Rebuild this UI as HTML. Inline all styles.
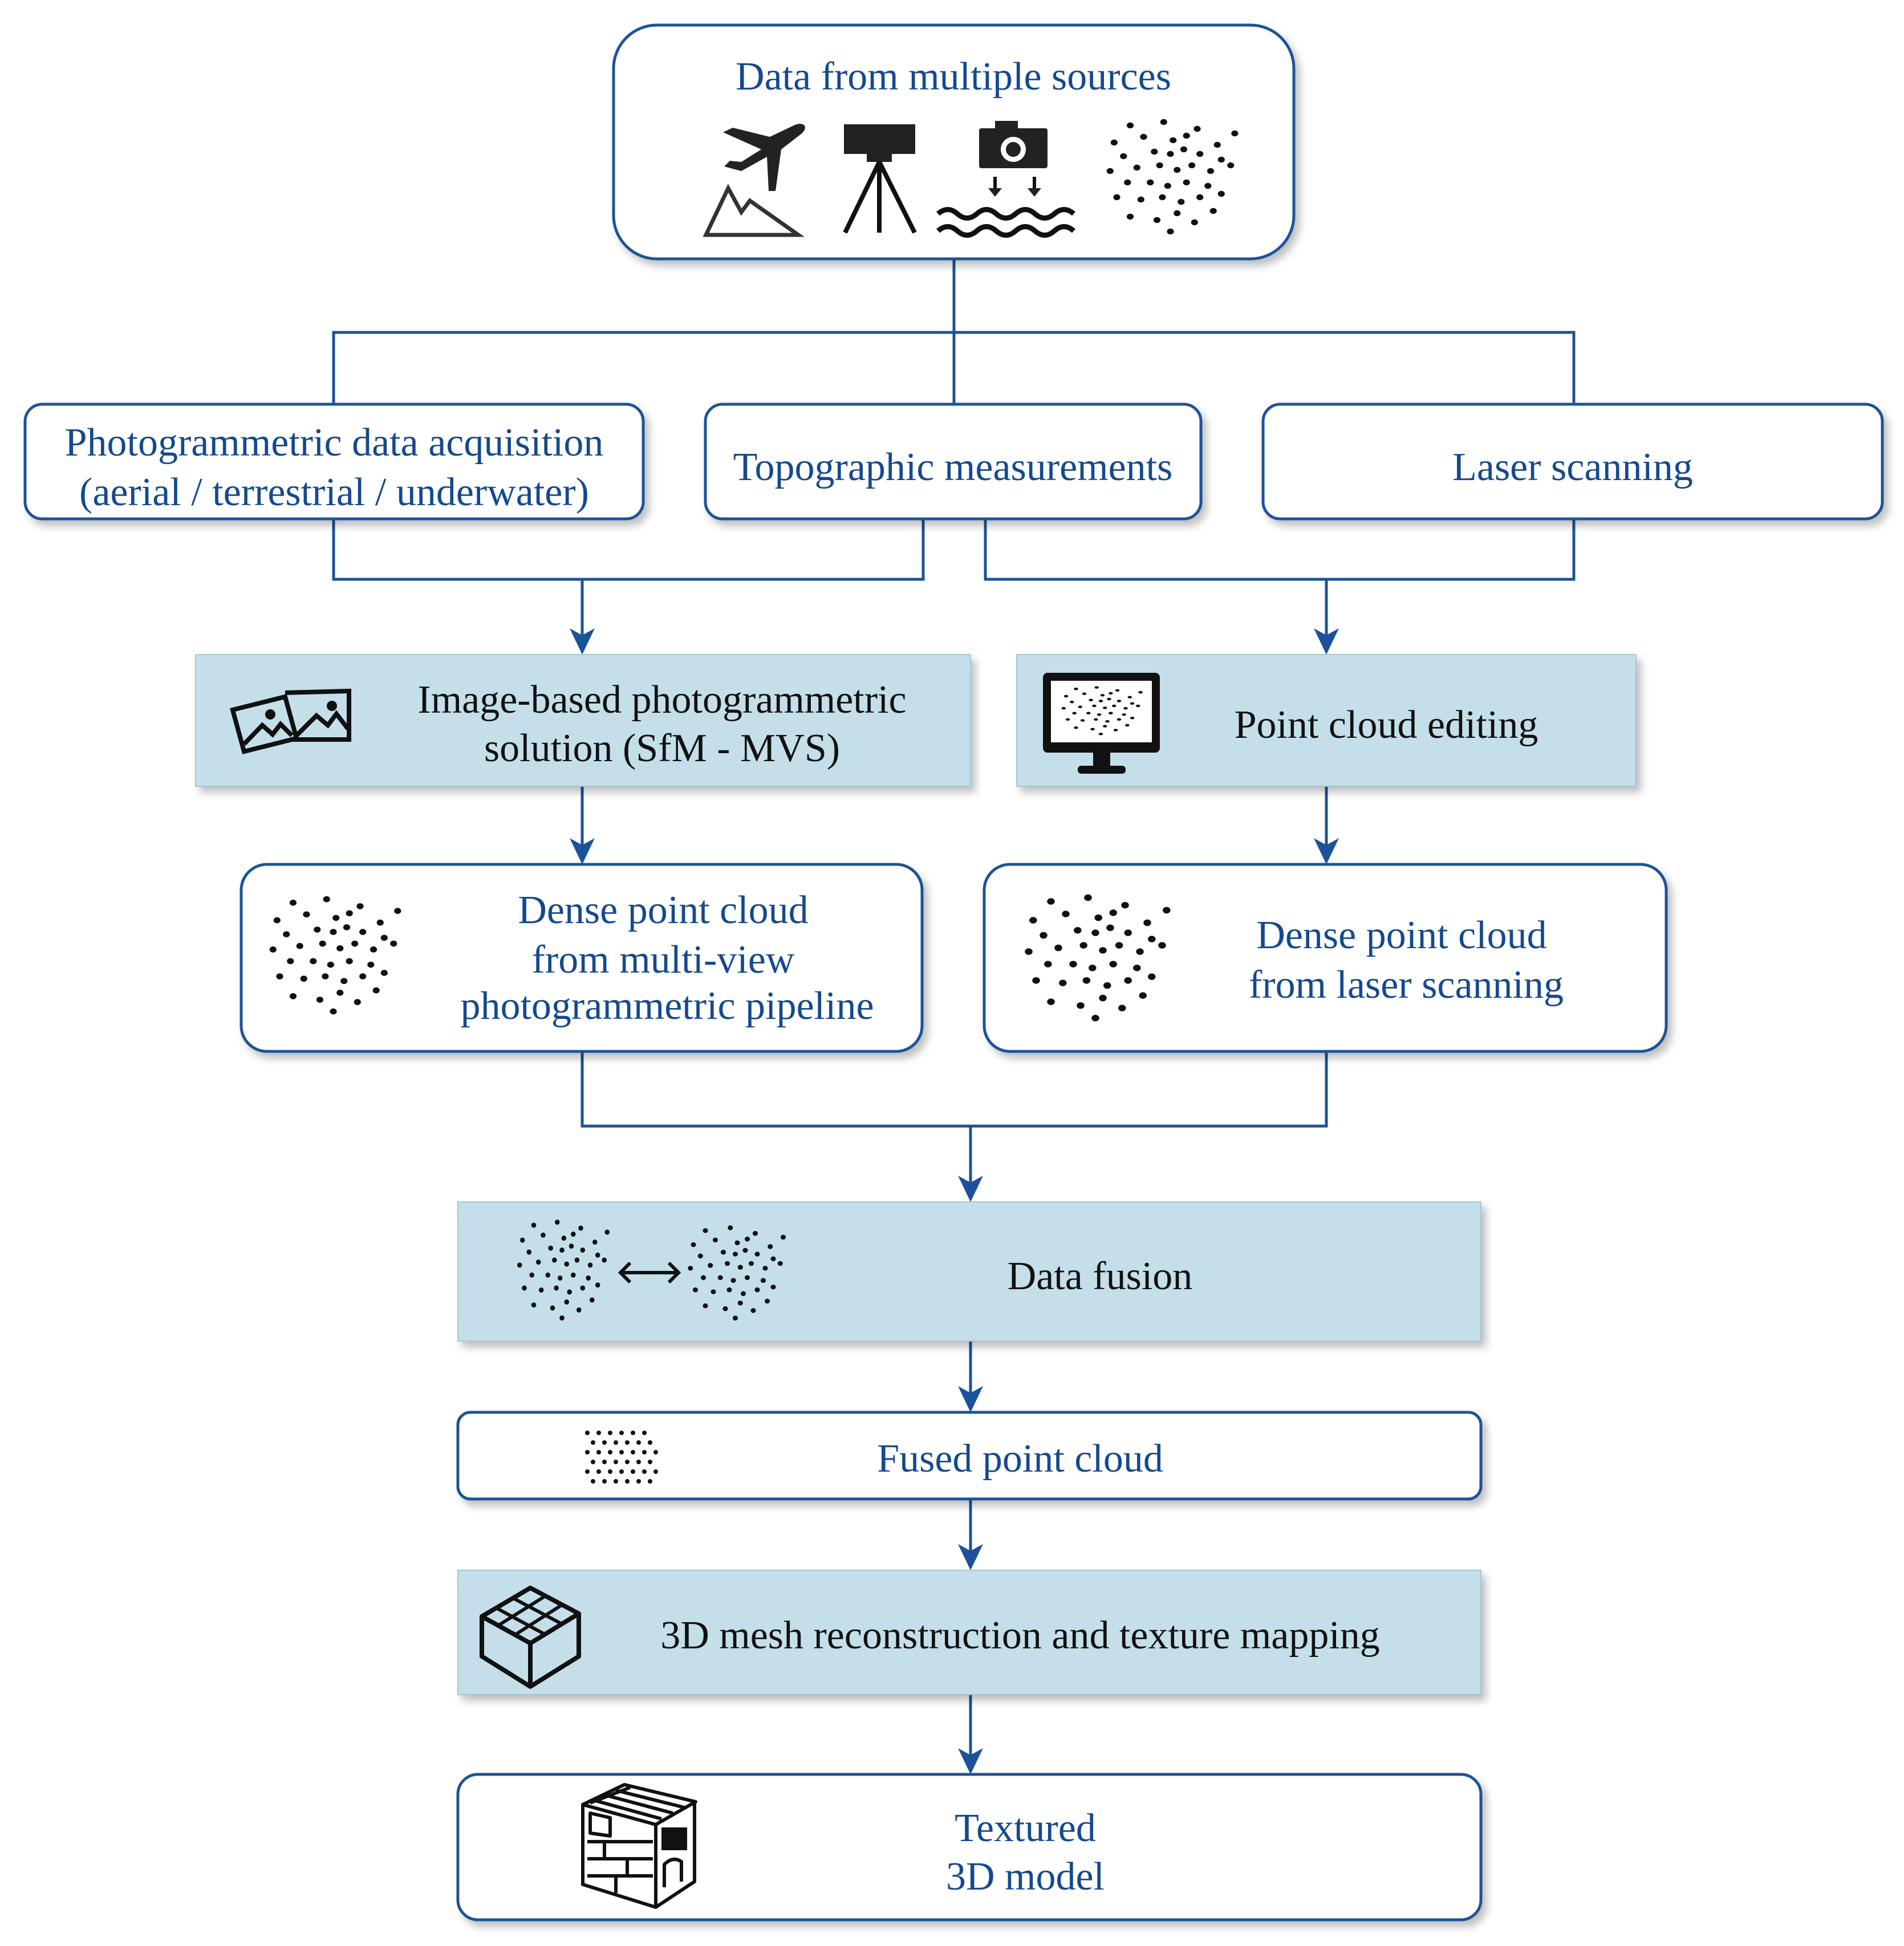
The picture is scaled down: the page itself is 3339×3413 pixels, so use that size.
<!DOCTYPE html>
<html><head><meta charset="utf-8"><style>
html,body{margin:0;padding:0;background:#fff}
svg{display:block}
text{font-family:"Liberation Serif",serif;fill:#15498f;font-size:70px;text-anchor:middle}
</style></head><body>
<svg width="3339" height="3413" viewBox="0 0 3339 3413" xmlns="http://www.w3.org/2000/svg">
<defs>
<filter id="sh" x="-5%" y="-5%" width="115%" height="130%"><feDropShadow dx="8" dy="10" stdDeviation="7" flood-color="#000" flood-opacity="0.25"/></filter>
<path id="ah" d="M-22,-46 L0,0 L22,-46 L0,-34 Z" fill="#1c5299"/>
<g id="cloud" fill="#111">
<circle cx="20" cy="5" r="2.6"/><circle cx="45" cy="2" r="2.6"/><circle cx="70" cy="8" r="2.6"/><circle cx="8" cy="20" r="2.6"/><circle cx="30" cy="15" r="2.6"/><circle cx="52" cy="18" r="2.6"/><circle cx="62" cy="14" r="2.6"/><circle cx="85" cy="22" r="2.6"/><circle cx="98" cy="12" r="2.6"/><circle cx="15" cy="32" r="2.6"/><circle cx="38" cy="28" r="2.6"/><circle cx="50" cy="30" r="2.6"/><circle cx="60" cy="26" r="2.6"/><circle cx="72" cy="30" r="2.6"/><circle cx="88" cy="35" r="2.6"/><circle cx="5" cy="45" r="2.6"/><circle cx="25" cy="42" r="2.6"/><circle cx="42" cy="40" r="2.6"/><circle cx="55" cy="44" r="2.6"/><circle cx="66" cy="40" r="2.6"/><circle cx="80" cy="45" r="2.6"/><circle cx="95" cy="40" r="2.6"/><circle cx="18" cy="55" r="2.6"/><circle cx="35" cy="55" r="2.6"/><circle cx="48" cy="58" r="2.6"/><circle cx="62" cy="55" r="2.6"/><circle cx="78" cy="58" r="2.6"/><circle cx="10" cy="68" r="2.6"/><circle cx="28" cy="70" r="2.6"/><circle cx="44" cy="68" r="2.6"/><circle cx="58" cy="72" r="2.6"/><circle cx="72" cy="68" r="2.6"/><circle cx="88" cy="65" r="2.6"/><circle cx="20" cy="85" r="2.6"/><circle cx="40" cy="88" r="2.6"/><circle cx="55" cy="82" r="2.6"/><circle cx="68" cy="90" r="2.6"/><circle cx="50" cy="98" r="2.6"/><circle cx="82" cy="80" r="2.6"/>
</g>
</defs>

<!-- connectors -->
<g stroke="#1c5299" stroke-width="5" fill="none">
<path d="M1673,454 V709 M585,709 V583 H2760 V709"/>
<path d="M585,910 V1016 H1619 V910 M1728,910 V1016 H2760 V910"/>
<path d="M1021,1016 V1120 M2326,1016 V1120 M1021,1379 V1490 M2326,1379 V1490"/>
<path d="M1021,1844 V1975 H2326 V1844 M1702,1975 V2080"/>
<path d="M1702,2352 V2450 M1702,2629 V2725 M1702,2972 V3085"/>
</g>
<use href="#ah" x="1021" y="1148"/><use href="#ah" x="2326" y="1148"/>
<use href="#ah" x="1021" y="1516"/><use href="#ah" x="2326" y="1516"/>
<use href="#ah" x="1702" y="2108"/><use href="#ah" x="1702" y="2477"/>
<use href="#ah" x="1702" y="2754"/><use href="#ah" x="1702" y="3112"/>

<!-- boxes -->
<g filter="url(#sh)">
<rect x="1076" y="44" width="1193" height="410" rx="76" fill="#fff" stroke="#1c5299" stroke-width="5"/>
<rect x="44" y="709" width="1084" height="201" rx="30" fill="#fff" stroke="#1c5299" stroke-width="5"/>
<rect x="1237" y="709" width="869" height="201" rx="30" fill="#fff" stroke="#1c5299" stroke-width="5"/>
<rect x="2215" y="709" width="1086" height="201" rx="30" fill="#fff" stroke="#1c5299" stroke-width="5"/>
<rect x="343" y="1148" width="1359" height="231" fill="#c5dfea" stroke="#a9c4d0" stroke-width="2"/>
<rect x="1783" y="1148" width="1086" height="231" fill="#c5dfea" stroke="#a9c4d0" stroke-width="2"/>
<rect x="423" y="1516" width="1194" height="328" rx="45" fill="#fff" stroke="#1c5299" stroke-width="5"/>
<rect x="1726" y="1516" width="1196" height="328" rx="45" fill="#fff" stroke="#1c5299" stroke-width="5"/>
<rect x="803" y="2108" width="1794" height="244" fill="#c5dfea" stroke="#a9c4d0" stroke-width="2"/>
<rect x="803" y="2477" width="1794" height="152" rx="22" fill="#fff" stroke="#1c5299" stroke-width="5"/>
<rect x="803" y="2754" width="1794" height="218" fill="#c5dfea" stroke="#a9c4d0" stroke-width="2"/>
<rect x="803" y="3112" width="1794" height="255" rx="35" fill="#fff" stroke="#1c5299" stroke-width="5"/>
</g>

<!-- text -->
<text x="1672" y="157">Data from multiple sources</text>
<text x="586" y="799">Photogrammetric data acquisition</text>
<text x="586" y="886">(aerial / terrestrial / underwater)</text>
<text x="1671" y="842">Topographic measurements</text>
<text x="2758" y="842">Laser scanning</text>
<text x="1161" y="1250" style="fill:#111">Image-based photogrammetric</text>
<text x="1161" y="1335" style="fill:#111">solution (SfM - MVS)</text>
<text x="2431" y="1294" style="fill:#111">Point cloud editing</text>
<text x="1163" y="1619">Dense point cloud</text>
<text x="1163" y="1706">from multi-view</text>
<text x="1170" y="1787">photogrammetric pipeline</text>
<text x="2458" y="1663">Dense point cloud</text>
<text x="2466" y="1750">from laser scanning</text>
<text x="1929" y="2261" style="fill:#111">Data fusion</text>
<text x="1789" y="2581">Fused point cloud</text>
<text x="1789" y="2891" style="fill:#111">3D mesh reconstruction and texture mapping</text>
<text x="1798" y="3229">Textured</text>
<text x="1798" y="3314">3D model</text>

<!-- top icons -->
<g fill="#222">
<path d="M1392,220 C1408,212 1420,222 1405,235 L1370,262 L1360,335 L1348,335 L1345,275 L1300,300 L1270,292 L1280,282 L1300,284 L1335,262 L1268,232 L1285,224 L1350,240 Z"/>
<path d="M1238,412 L1277,330 L1300,372 L1315,352 L1400,412 Z" fill="none" stroke="#333" stroke-width="7"/>
<rect x="1480" y="218" width="125" height="52"/><rect x="1520" y="270" width="44" height="14"/>
<path d="M1542,284 L1482,408 M1542,284 V408 M1542,284 L1604,408" stroke="#111" stroke-width="8" fill="none"/>
<rect x="1717" y="225" width="120" height="70" rx="4"/><rect x="1745" y="212" width="40" height="16"/>
<circle cx="1777" cy="262" r="22" fill="#fff"/><circle cx="1777" cy="262" r="13"/>
<path d="M1745,310 V335 M1814,310 V335" stroke="#111" stroke-width="6"/>
<path d="M1733,330 L1745,345 L1757,330 Z M1802,330 L1814,345 L1826,330 Z"/>
<path d="M1645,375 q17,-15 34,0 t34,0 t34,0 t34,0 t34,0 t34,0 t34,0 M1645,405 q17,-15 34,0 t34,0 t34,0 t34,0 t34,0 t34,0 t34,0" stroke="#111" stroke-width="9" fill="none"/>
</g>
<use href="#cloud" transform="translate(1935,210) scale(2.35,2.0)"/>

<!-- image icon -->
<g fill="none" stroke="#111" stroke-width="8">
<path d="M408,1245 L500,1222 L520,1295 L428,1318 Z"/>
<path d="M500,1215 L612,1212 L612,1297 L510,1297"/>
<path d="M520,1290 L555,1255 L575,1272 L590,1252 L610,1278"/>
<path d="M428,1305 L460,1272 L478,1288 L492,1270 L512,1290"/>
</g>
<circle cx="474" cy="1253" r="9" fill="#111"/><circle cx="582" cy="1238" r="9" fill="#111"/>

<!-- monitor -->
<rect x="1829" y="1180" width="205" height="140" rx="8" fill="#111"/>
<rect x="1843" y="1194" width="177" height="108" fill="#fff"/>
<rect x="1917" y="1320" width="30" height="25" fill="#111"/><rect x="1890" y="1343" width="84" height="14" rx="6" fill="#111"/>
<use href="#cloud" transform="translate(1858,1204) scale(1.45,0.85)"/>

<!-- dense clouds -->
<use href="#cloud" transform="translate(467,1573) scale(2.35,2.05)"/>
<use href="#cloud" transform="translate(1791,1570) scale(2.6,2.2)"/>
<use href="#cloud" transform="translate(903,2140) scale(1.65,1.75)"/>
<use href="#cloud" transform="translate(1202,2150) scale(1.75,1.65)"/>
<path d="M1090,2232 H1188 M1105,2215 L1088,2232 L1105,2249 M1173,2215 L1190,2232 L1173,2249" stroke="#111" stroke-width="6" fill="none"/>

<!-- fused dots grid -->
<g fill="#111">
<circle cx="1030" cy="2513" r="4"/><circle cx="1050" cy="2513" r="4"/><circle cx="1070" cy="2513" r="4"/><circle cx="1090" cy="2513" r="4"/><circle cx="1110" cy="2513" r="4"/><circle cx="1130" cy="2513" r="4"/>
<circle cx="1040" cy="2530" r="4"/><circle cx="1060" cy="2530" r="4"/><circle cx="1080" cy="2530" r="4"/><circle cx="1100" cy="2530" r="4"/><circle cx="1120" cy="2530" r="4"/><circle cx="1140" cy="2530" r="4"/>
<circle cx="1030" cy="2547" r="4"/><circle cx="1050" cy="2547" r="4"/><circle cx="1070" cy="2547" r="4"/><circle cx="1090" cy="2547" r="4"/><circle cx="1110" cy="2547" r="4"/><circle cx="1130" cy="2547" r="4"/><circle cx="1150" cy="2547" r="4"/>
<circle cx="1040" cy="2564" r="4"/><circle cx="1060" cy="2564" r="4"/><circle cx="1080" cy="2564" r="4"/><circle cx="1100" cy="2564" r="4"/><circle cx="1120" cy="2564" r="4"/><circle cx="1140" cy="2564" r="4"/>
<circle cx="1030" cy="2581" r="4"/><circle cx="1050" cy="2581" r="4"/><circle cx="1070" cy="2581" r="4"/><circle cx="1090" cy="2581" r="4"/><circle cx="1110" cy="2581" r="4"/><circle cx="1130" cy="2581" r="4"/><circle cx="1150" cy="2581" r="4"/>
<circle cx="1040" cy="2598" r="4"/><circle cx="1060" cy="2598" r="4"/><circle cx="1080" cy="2598" r="4"/><circle cx="1100" cy="2598" r="4"/><circle cx="1120" cy="2598" r="4"/><circle cx="1140" cy="2598" r="4"/>
</g>

<!-- mesh cube -->
<g fill="none" stroke="#111" stroke-width="8" stroke-linejoin="round">
<path d="M845,2835 L930,2785 L1015,2830 L1015,2905 L930,2958 L845,2905 Z"/>
<path d="M845,2835 L930,2882 L1015,2830 M930,2882 V2958"/>
<path d="M870,2820 L955,2866 M900,2803 L985,2848 M955,2800 L875,2850 M985,2815 L905,2866" stroke-width="6"/>
</g>

<!-- house -->
<g fill="none" stroke="#111" stroke-width="6" stroke-linejoin="round">
<path d="M1022,3165 L1095,3130 L1220,3160 L1150,3200 Z" fill="#fff"/>
<path d="M1040,3157 L1160,3190 M1060,3148 L1180,3180 M1080,3140 L1200,3170 M1035,3162 L1105,3135"/>
<path d="M1022,3165 V3305 L1150,3345 V3200 M1150,3345 L1218,3300 V3160"/>
<path d="M1030,3230 H1145 M1030,3260 H1145 M1030,3290 H1145 M1060,3230 V3260 M1100,3260 V3290 M1080,3290 V3320"/>
<path d="M1165,3310 V3270 Q1180,3255 1195,3265 V3300"/>
<path d="M1035,3180 L1035,3215 L1070,3220 L1070,3188 Z"/>
</g>
<rect x="1160" y="3205" width="45" height="40" fill="#111"/>
</svg>
</body></html>
